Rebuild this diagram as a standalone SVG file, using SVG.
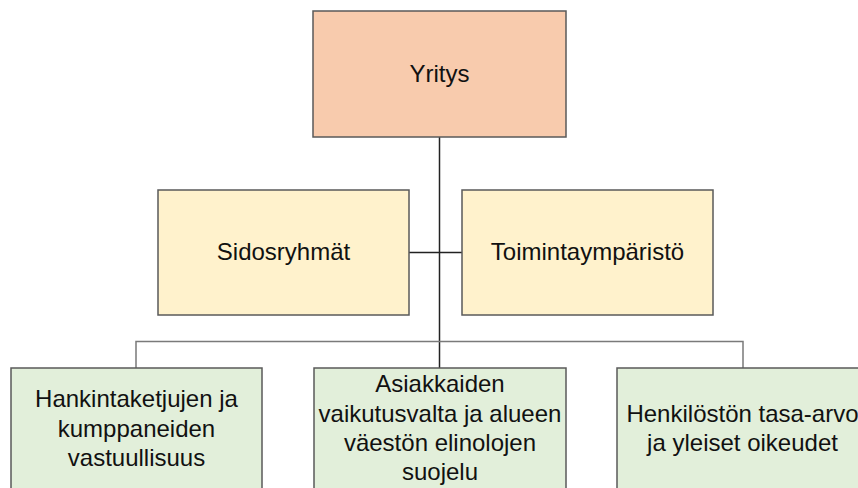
<svg xmlns="http://www.w3.org/2000/svg" width="858" height="488" viewBox="0 0 858 488">
<style>
  .box { stroke: #5a5a5a; stroke-width: 1.5; }
  .top { fill: #F8CBAD; }
  .mid { fill: #FFF2CC; }
  .bot { fill: #E2EFDA; }
  .lbl { font-family: "Liberation Sans", Arial, sans-serif; font-size: 24px; fill: #111; text-anchor: middle; }
  .trunk { stroke: #222; stroke-width: 1.5; fill: none; }
  .branch { stroke: #7a7a7a; stroke-width: 1.5; fill: none; }
</style>
<rect x="0" y="0" width="858" height="488" fill="#ffffff"/>
<g id="connectors">
  <line class="trunk" x1="439.5" y1="137" x2="439.5" y2="368"/>
  <line class="trunk" x1="409" y1="252.5" x2="462" y2="252.5"/>
  <path class="branch" d="M136,368 V341.5 H743 V368"/>
</g>
<g id="yritys">
  <rect class="box top" x="313" y="11" width="253" height="126"/>
  <text class="lbl" x="439.5" y="82">Yritys</text>
</g>
<g id="sidosryhmat">
  <rect class="box mid" x="158" y="190" width="251" height="125"/>
  <text class="lbl" x="283.5" y="260">Sidosryhmät</text>
</g>
<g id="toimintaymparisto">
  <rect class="box mid" x="462" y="190" width="251" height="125"/>
  <text class="lbl" x="587.5" y="260">Toimintaympäristö</text>
</g>
<g id="hankintaketjut">
  <rect class="box bot" x="11" y="368" width="251" height="126"/>
  <text class="lbl" x="136.5" y="407">Hankintaketjujen ja</text>
  <text class="lbl" x="136.5" y="437">kumppaneiden</text>
  <text class="lbl" x="136.5" y="466">vastuullisuus</text>
</g>
<g id="asiakkaat">
  <rect class="box bot" x="314" y="368" width="252" height="126"/>
  <text class="lbl" x="440" y="392">Asiakkaiden</text>
  <text class="lbl" x="440" y="422">vaikutusvalta ja alueen</text>
  <text class="lbl" x="440" y="451">väestön elinolojen</text>
  <text class="lbl" x="440" y="480">suojelu</text>
</g>
<g id="henkilosto">
  <rect class="box bot" x="617" y="368" width="251" height="126"/>
  <text class="lbl" x="742.5" y="422">Henkilöstön tasa-arvo</text>
  <text class="lbl" x="742.5" y="451">ja yleiset oikeudet</text>
</g>
</svg>
